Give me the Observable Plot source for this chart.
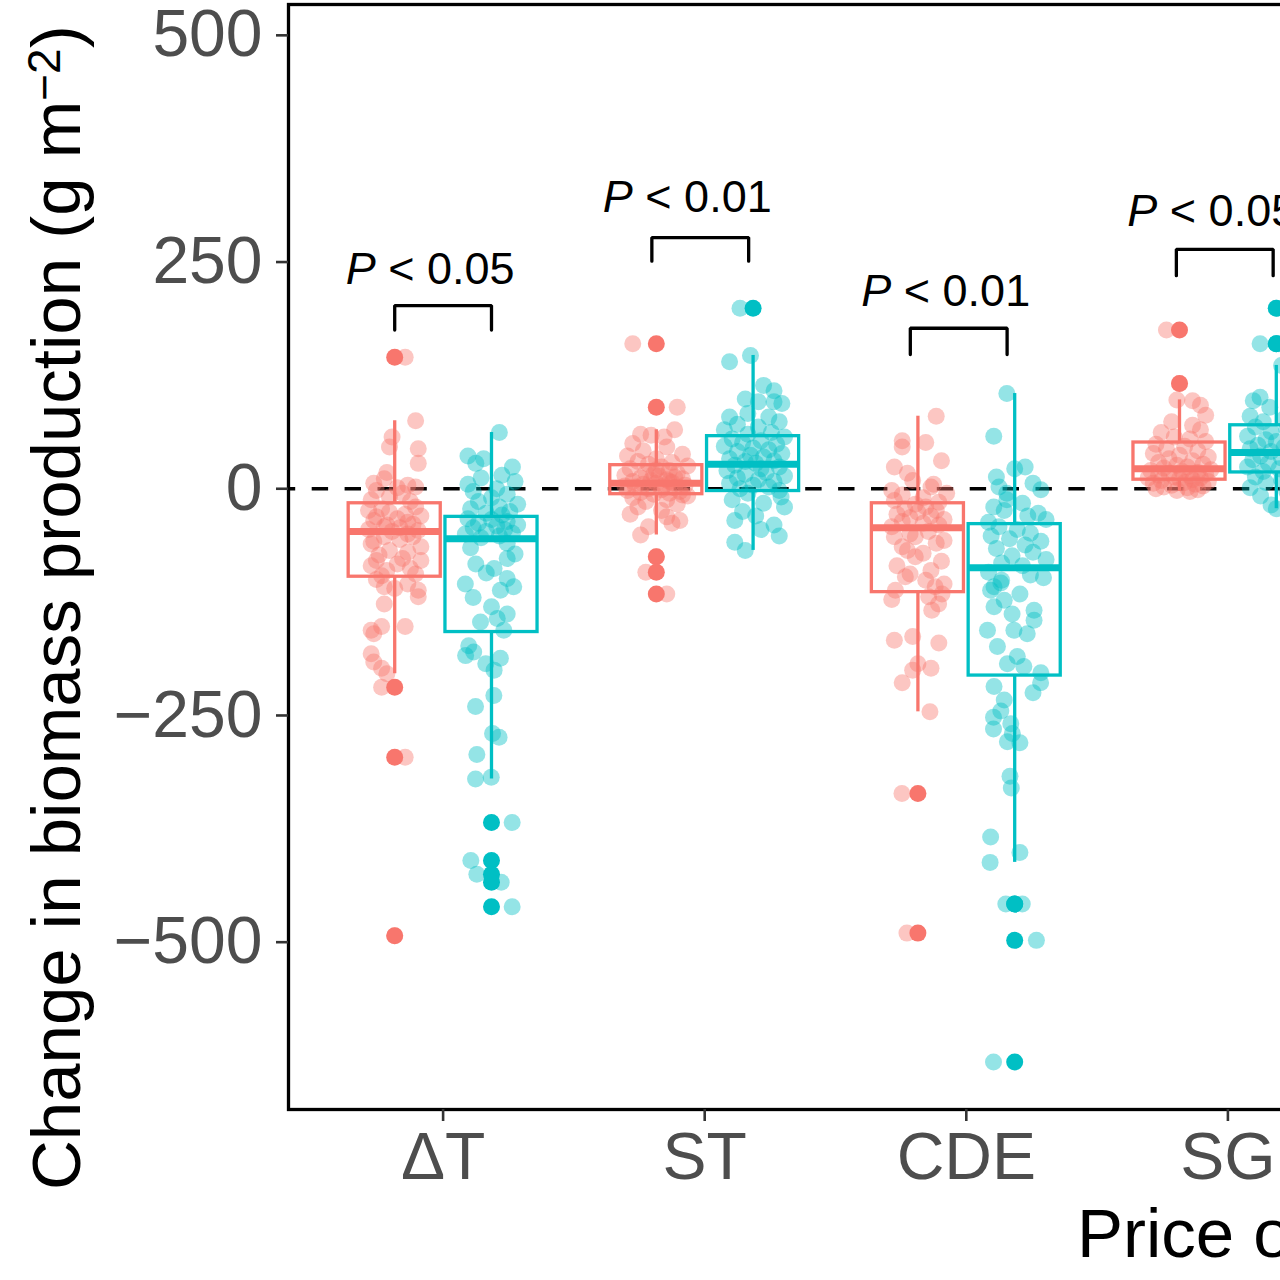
<!DOCTYPE html>
<html>
<head>
<meta charset="utf-8">
<style>
  html, body { margin: 0; padding: 0; overflow: hidden; background: #fff; width: 1280px; height: 1280px; }
  #chart { width: 1400px; }
  #chart svg { max-width: none !important; }
</style>
<script src="https://cdn.jsdelivr.net/npm/d3@7"></script>
<script src="https://cdn.jsdelivr.net/npm/@observablehq/plot@0.6"></script>
</head>
<body>
<div id="chart"></div>
<script>
// ---------------- data ----------------
const categories = ["ΔT", "ST", "CDE", "SG"];
const groups = ["A", "B"];                 // red, teal
const colors = ["#F8766D", "#00BFC4"];
const yTicks = [-500, -250, 0, 250, 500];

// each point: [value, jitter (category units)]
const dT_A = [
 [145,0.04],[75,0.08],[57,-0.01],[46,-0.02],[44,0.09],[28,0.09],[18,-0.03],[11,-0.04],[6,-0.08],[4,0.05],[2,0.08],[-2,-0.07],[1,0.01],[-5,0.03],[-9,-0.02],[-12,-0.09],[-14,0.06],
 [-20,0.08],[-22,-0.05],[-24,-0.10],[-26,-0.02],[-28,0.04],[-30,0.10],[-31,-0.07],[-33,0.01],[-35,-0.08],[-37,0.05],[-39,0.07],[-40,-0.03],[-42,-0.04],[-43,0.02],[-45,-0.10],[-46,0.09],[-47,-0.01],
 [-50,0.05],[-53,-0.04],[-53,0.07],[-56,0.02],[-58,-0.08],[-61,-0.09],[-64,0.10],[-68,-0.02],[-70,0.05],[-73,-0.06],[-77,0.03],[-79,-0.07],[-79,0.10],[-83,0.01],[-85,-0.09],[-88,0.06],[-90,-0.03],[-94,0.08],[-96,-0.05],
 [-100,-0.07],[-105,0.05],[-108,-0.04],[-110,0.0],[-112,0.09],[-119,0.09],[-127,-0.04],[-152,0.04],[-152,-0.05],[-156,-0.09],[-160,-0.08],[-182,-0.09],[-191,-0.08],[-198,-0.05],[-204,-0.03],[-219,-0.05],[-296,0.04],[-493,0.0]
];
const dT_B = [
 [62,0.03],[36,-0.09],[33,-0.03],[24,0.08],[28,-0.06],[15,0.04],[12,-0.04],[8,0.09],[5,-0.09],[0,0.02],[-3,-0.07],[-6,0.06],[-10,0.0],[-14,-0.05],[-17,0.10],[-20,0.03],[-22,-0.08],[-25,0.07],[-27,-0.02],[-29,0.04],
 [-33,-0.09],[-34,0.0],[-36,0.06],[-38,-0.05],[-40,0.10],[-41,0.02],[-43,-0.07],[-45,0.05],[-47,-0.02],[-49,0.08],[-50,-0.10],[-52,0.03],[-54,-0.04],
 [-60,0.06],[-65,-0.08],[-72,0.09],[-77,0.06],[-83,-0.06],[-88,0.01],[-93,-0.02],[-99,0.06],[-105,-0.10],[-108,0.085],[-112,0.034],[-120,-0.07],[-130,0.0],[-138,0.06],[-143,0.022],[-147,-0.042],[-156,0.047],
 [-173,-0.087],[-180,-0.068],[-184,-0.099],[-187,0.034],[-193,-0.022],[-200,0.01],[-228,0.009],[-240,-0.061],[-270,0.004],[-274,0.029],[-293,-0.056],[-318,-0.001],[-320,-0.061],
 [-368,0.079],[-410,-0.079],[-425,-0.056],[-434,0.037],[-461,0.079]
];
const ST_A = [
 [160,-0.09],[90,0.08],[65,0.07],[60,-0.06],[59,-0.02],[57,0.03],[50,-0.09],[46,0.04],[42,-0.05],[38,0.10],[36,-0.11],[33,0.0],[30,-0.07],[29,0.06],[27,-0.03],
 [25,0.12],[24,0.02],[22,-0.10],[21,0.0],[20,0.05],[18,-0.04],[17,0.08],[16,-0.01],[15,-0.12],[14,0.01],[13,0.07],[12,-0.06],[11,0.10],[10,0.04],[9,-0.02],[8,-0.09],[8,0.05],[7,0.06],[6,0.0],
 [5,-0.05],[4,0.11],[3,0.03],[3,-0.12],[2,-0.08],[1,0.07],[0,-0.03],[-1,0.02],[-2,-0.11],[-3,0.09],[-4,-0.06],[-5,0.05],[-6,-0.01],[-7,0.10],
 [-8,0.12],[-10,-0.09],[-12,0.04],[-14,-0.04],[-17,0.08],[-20,-0.07],[-24,0.02],[-28,-0.10],[-31,0.04],[-35,0.09],[-38,0.06],[-42,-0.03],[-51,-0.06],
 [-75,0.0],[-92,-0.04],[-116,0.04]
];
const ST_B = [
 [199,-0.05],[147,-0.01],[140,-0.09],[114,0.04],[108,0.08],[99,-0.03],[96,0.02],[96,0.08],[94,0.11],[83,-0.02],[79,-0.09],[79,0.06],[74,0.10],[71,-0.06],[68,0.02],[65,-0.11],[62,0.07],[60,-0.02],
 [57,0.12],[55,-0.08],[53,0.03],[51,-0.04],[49,0.09],[47,-0.11],[45,0.0],[43,0.06],[41,-0.06],[39,0.11],[37,-0.01],[35,0.04],[33,-0.09],[31,0.08],[30,-0.03],[28,0.01],
 [26,-0.07],[24,0.10],[22,0.03],[20,-0.10],[18,0.05],[16,-0.03],[14,0.12],[12,-0.06],[10,0.02],[8,0.08],[6,-0.09],[4,0.0],[2,0.06],[0,-0.05],[-2,0.10],
 [-5,-0.02],[-9,0.107],[-12,-0.08],[-16,0.04],[-20,0.12],[-25,-0.04],[-30,0.01],[-35,-0.07],[-40,0.08],[-45,0.03],[-52,0.10],[-59,-0.07],[-68,-0.03]
];
const CDE_A = [
 [80,0.07],[53,-0.06],[51,0.03],[46,-0.06],[31,0.09],[24,-0.09],[17,-0.04],[9,-0.02],[5,0.06],[2,0.05],[-2,-0.10],[-5,0.11],[-7,-0.06],[-10,0.02],[-13,-0.09],[-15,0.08],
 [-17,-0.01],[-20,0.03],[-22,-0.05],[-24,0.07],[-26,0.0],[-28,-0.08],[-30,0.05],[-32,-0.03],[-34,0.10],[-36,-0.06],[-38,0.02],[-40,0.08],[-42,-0.10],
 [-47,0.04],[-50,-0.03],[-53,-0.09],[-53,-0.01],[-57,0.10],[-60,0.07],[-64,-0.06],[-68,-0.04],[-71,0.02],[-75,-0.01],[-80,0.09],[-85,-0.08],[-90,0.05],[-94,-0.03],[-97,-0.048],[-101,0.03],[-105,0.10],[-108,0.066],[-112,-0.086],
 [-116,0.092],[-119,0.041],[-122,-0.10],[-127,0.079],[-134,0.053],[-163,-0.02],[-167,-0.09],[-170,0.08],[-193,0.0],[-198,0.05],[-200,-0.02],[-214,-0.06],[-246,0.046],[-336,-0.061],[-490,-0.042]
];
const CDE_B = [
 [105,-0.03],[58,-0.08],[24,0.04],[22,0.0],[13,-0.07],[6,0.07],[2,-0.06],[-1,0.10],[-5,-0.03],[-12,-0.03],[-16,0.03],[-20,-0.08],[-24,-0.04],[-27,0.09],[-30,0.05],[-34,0.12],[-37,-0.10],
 [-42,-0.06],[-45,0.01],[-49,0.06],[-52,-0.09],[-55,-0.02],[-58,0.10],[-62,0.04],[-66,-0.07],[-70,0.07],[-74,-0.01],[-78,0.12],[-82,-0.05],[-85,0.03],
 [-92,-0.10],[-95,0.06],[-98,0.11],[-101,-0.05],[-104,-0.053],[-108,-0.079],[-112,-0.092],[-116,0.02],[-123,-0.04],[-130,-0.079],[-134,0.074],[-138,-0.01],[-145,0.074],[-156,-0.104],[-156,-0.003],[-160,0.048],[-174,-0.066],[-185,0.01],[-193,-0.028],[-196,0.035],[-203,0.10],
 [-214,0.099],[-218,-0.079],[-225,0.07],[-233,-0.04],[-245,-0.053],[-252,-0.081],[-259,-0.015],[-265,-0.081],[-270,-0.009],[-279,-0.028],[-280,0.02],[-317,-0.018],[-330,-0.013],[-384,-0.092],[-401,0.02],[-412,-0.094],
 [-458,-0.034],[-458,0.029],[-498,0.083],[-632,-0.081]
];
const SG_A = [
 [175,-0.05],[116,0.0],[98,-0.01],[97,0.05],[92,0.08],[81,0.10],[74,-0.03],[70,0.05],[65,0.08],[62,-0.07],[57,-0.02],[55,0.04],[52,0.10],[49,-0.09],
 [47,0.02],[44,-0.05],[42,0.07],[39,-0.10],[37,0.0],[35,0.11],[33,-0.04],[31,0.05],[29,-0.08],[27,0.09],[26,-0.01],[24,0.03],[23,-0.06],
 [21,0.12],[20,-0.11],[19,0.01],[18,0.07],[17,-0.04],[16,0.10],[15,-0.08],[14,0.04],[13,-0.02],[12,0.08],[12,-0.12],[11,0.0],[10,0.05],
 [9,-0.07],[8,0.11],[7,0.02],[6,-0.10],[5,0.06],[4,-0.03],[3,0.09],[2,-0.06],[1,0.03],[0,-0.09],[-1,0.07],[-2,-0.01],[-3,0.04]
];
const SG_B = [
 [199,0.0],[160,-0.062],[160,0.01],[136,0.02],[101,-0.062],[97,-0.088],[90,-0.025],[95,0.05],[85,0.09],[80,-0.10],[77,0.03],[74,-0.05],[72,0.10],
 [68,-0.08],[66,0.04],[63,-0.02],[61,0.11],[58,-0.11],[56,0.06],[54,-0.04],[52,0.0],[50,0.09],[48,-0.07],[46,0.03],[44,-0.10],[42,0.07],[41,-0.02],
 [38,0.10],[36,-0.06],[34,0.02],[32,-0.09],[30,0.08],[28,-0.03],[26,0.05],[24,-0.11],[22,0.01],[20,0.09],[19,-0.05],
 [16,0.06],[13,-0.08],[10,0.02],[7,-0.04],[4,0.10],[1,-0.10],[-3,0.04],[-8,-0.06],[-13,0.07],[-18,-0.02],[-22,0.0]
];

// box summaries, order: ΔT-A, ΔT-B, ST-A, ST-B, CDE-A, CDE-B, SG-A, SG-B
const whiskerLow  = [-204, -320, -51, -68, -246, -412, -3, -22];
const quartile1   = [-97, -158, -6, -2.5, -114, -206, 10, 18];
const medians     = [-47, -55, 6, 27, -43, -87, 22, 40];
const quartile3   = [-16, -31, 26, 58, -16, -39, 51, 70];
const whiskerHigh = [75, 62, 65, 147, 80, 105, 98, 136];

// significance annotations per category
const pLabels      = ["P < 0.05", "P < 0.01", "P < 0.01", "P < 0.05"];
const bracketTop    = [202, 277, 177, 264];
const bracketBottom = [175, 251, 148, 235];
const labelY        = [226, 305, 201, 290];

// ---------------- layout constants ----------------
const dodge = 0.185, halfBox = 0.176;
const bracketShift = [0, -0.017, -0.029, -0.012];

const series = [dT_A, dT_B, ST_A, ST_B, CDE_A, CDE_B, SG_A, SG_B];
const boxes = series.map((pts, k) => {
  const cat = Math.floor(k / 2) + 1, g = k % 2;
  return {cat, g: groups[g], cx: cat + (g ? dodge : -dodge),
    lo: whiskerLow[k], q1: quartile1[k], med: medians[k], q3: quartile3[k], hi: whiskerHigh[k]};
});
const points = [], outliers = [];
series.forEach((pts, k) => {
  const b = boxes[k];
  for (const [v, j] of pts) {
    points.push({x: b.cx + j, y: v, g: b.g});
    if (v < b.lo - 0.5 || v > b.hi + 0.5) outliers.push({x: b.cx, y: v, g: b.g});
  }
});
const brackets = categories.map((c, i) => ({
  id: i, cx: i + 1 + bracketShift[i], top: bracketTop[i], bottom: bracketBottom[i], ly: labelY[i], label: pLabels[i]
}));
const bracketPath = brackets.flatMap(b => [
  {id: b.id, x: b.cx - dodge, y: b.bottom},
  {id: b.id, x: b.cx - dodge, y: b.top},
  {id: b.id, x: b.cx + dodge, y: b.top},
  {id: b.id, x: b.cx + dodge, y: b.bottom}
]);

const W = 1400, H = 1280, ML = 288, MT = 4, MB = 171;
const catPx = 261.6;
const x0 = 1 - (442.6 - ML) / catPx;

const fontFam = "'Liberation Sans', Arial, Helvetica, sans-serif";
const fmt = d => d < 0 ? "\u2212" + Math.abs(d) : String(d);
const R = 8.5;

const plot = Plot.plot({
  width: W, height: H,
  marginLeft: ML, marginRight: 0, marginTop: MT, marginBottom: MB,
  style: {fontFamily: fontFam, background: "#fff", maxWidth: "none", overflow: "visible"},
  x: {type: "linear", domain: [x0, x0 + (W - ML) / catPx]},
  y: {domain: [-684.5, 534]},
  color: {domain: groups, range: colors},
  marks: [
    Plot.ruleY([0], {stroke: "black", strokeWidth: 3.4, strokeDasharray: "16.4,16.5", strokeDashoffset: 9.2}),
    Plot.dot(points, {x: "x", y: "y", r: R, fill: "g", fillOpacity: 0.42, stroke: "none"}),
    Plot.ruleX(boxes, {x: "cx", y1: "q3", y2: "hi", stroke: "g", strokeWidth: 3.3}),
    Plot.ruleX(boxes, {x: "cx", y1: "q1", y2: "lo", stroke: "g", strokeWidth: 3.3}),
    Plot.rect(boxes, {x1: d => d.cx - halfBox, x2: d => d.cx + halfBox, y1: "q1", y2: "q3", stroke: "g", fill: "none", strokeWidth: 3.3}),
    Plot.ruleY(boxes, {y: "med", x1: d => d.cx - halfBox, x2: d => d.cx + halfBox, stroke: "g", strokeWidth: 7}),
    Plot.dot(outliers, {x: "x", y: "y", r: R, fill: "g", stroke: "none"}),
    Plot.line(bracketPath, {x: "x", y: "y", z: "id", stroke: "black", strokeWidth: 3.3, strokeLinejoin: "miter", curve: "linear"}),
    Plot.text(brackets, {x: "cx", y: "ly", text: "label", fontSize: 45, lineAnchor: "bottom", dx: -13, fill: "black", fontFamily: fontFam}),
    Plot.frame({stroke: "black", strokeWidth: 3.3}),
    Plot.axisY({ticks: yTicks, tickSize: 12, tickPadding: 14, tickFormat: fmt, fontSize: 66, stroke: "#333333", fill: "#4d4d4d", strokeWidth: 2.6, label: null}),
    Plot.axisX({ticks: [1, 2, 3, 4], tickSize: 12, tickPadding: 11, tickFormat: d => categories[d - 1], fontSize: 66, stroke: "#333333", fill: "#4d4d4d", strokeWidth: 2.6, label: null})
  ]
});

document.getElementById("chart").appendChild(plot);

// italic P in the significance labels
const svg = d3.select(plot);
svg.selectAll("text").each(function () {
  const t = this.textContent;
  if (/^P < /.test(t) && this.children.length === 0) {
    this.textContent = "";
    const s = d3.select(this);
    s.append("tspan").attr("font-style", "italic").text("P");
    s.append("tspan").text(t.slice(1));
  }
});

// axis titles
const yTitle = svg.append("text")
  .attr("transform", "translate(80,1190) rotate(-90)")
  .attr("text-anchor", "start")
  .attr("font-family", fontFam).attr("font-size", 69).attr("fill", "black");
yTitle.append("tspan").text("Change in biomass production (g m");
yTitle.append("tspan").attr("dy", -20).attr("font-size", 46).text("\u22122");
yTitle.append("tspan").attr("dy", 20).text(")");

svg.append("text")
  .attr("x", 1077).attr("y", 1257)
  .attr("text-anchor", "start")
  .attr("font-family", fontFam).attr("font-size", 69).attr("fill", "black")
  .text("Price of");
</script>
</body>
</html>
